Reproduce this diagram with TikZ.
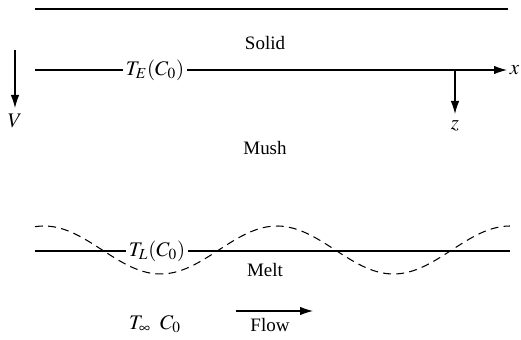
\documentclass[tikz,border=0pt]{standalone}
\usepackage{mathptmx}
\usepackage[no-math]{fontspec}
\setmainfont{Liberation Serif}
\usetikzlibrary{positioning,arrows.meta,calc}
\tikzset{
  axisarrow/.style={-{Latex[length=2.6mm,width=1.7mm]}, semithick},
  isoline/.style={semithick},
  wavyline/.style={semithick, dash pattern=on 4.5pt off 3pt},
  phaselabel/.style={font=\fontsize{10.8}{12}\selectfont, inner sep=1pt},
  linelabel/.style={font=\fontsize{11.8}{13}\selectfont, inner sep=1.5pt}
}
\begin{document}
\begin{tikzpicture}[>=Latex]
      \useasboundingbox (0,0) rectangle (10.42,6.78);
      % top boundary
      \coordinate (tl) at (0.7,6.6);
      \coordinate (tr) at (10.16,6.6);
      \draw[isoline] (tl) -- (tr);
      \node[phaselabel] (solid) at (5.3,5.92) {Solid};
      % eutectic isotherm
      \coordinate (el) at (0.7,5.38);
      \node[linelabel] (te) at (3.1,5.38) {$T_E(C_0)$};
      \coordinate (o) at (9.1,5.38);
      \draw[isoline] (el) -- (te);
      \draw[isoline] (te) -- (o);
      % frame axes
      \coordinate (xe) at (10.14,5.38);
      \coordinate (ze) at (9.1,4.5);
      \draw[axisarrow] (o) -- (xe);
      \draw[axisarrow] (o) -- (ze);
      \node[linelabel, right=0.0 of xe] (xl) {$x$};
      \node[linelabel, below=0.08 of ze] (zl) {$z$};
      % growth velocity
      \coordinate (vs) at (0.3,5.78);
      \coordinate (ve) at (0.3,4.62);
      \draw[axisarrow] (vs) -- (ve);
      \node[linelabel, below=0.06 of ve] (vl) {$V$};
      \node[phaselabel] (mush) at (5.3,3.82) {Mush};
      % liquidus isotherm
      \coordinate (ll) at (0.7,1.76);
      \node[linelabel] (tlq) at (3.14,1.76) {$T_L(C_0)$};
      \coordinate (lr) at (10.2,1.76);
      \draw[isoline] (ll) -- (tlq);
      \draw[isoline] (tlq) -- (lr);
      \draw[wavyline, domain=0.7:10.2, samples=120]
        plot (\x, {1.78 + 0.48*cos(deg(2*pi*(\x-0.88)/4.66))});
      \node[phaselabel] (melt) at (5.3,1.38) {Melt};
      % far field
      \node[linelabel] (far) at (3.1,0.3) {$T_\infty\;\; C_0$};
      \coordinate (fs) at (4.72,0.56);
      \coordinate (fe) at (6.26,0.56);
      \draw[axisarrow] (fs) -- (fe);
      \node[phaselabel] (flow) at (5.4,0.28) {Flow};
    \end{tikzpicture}
\end{document}
